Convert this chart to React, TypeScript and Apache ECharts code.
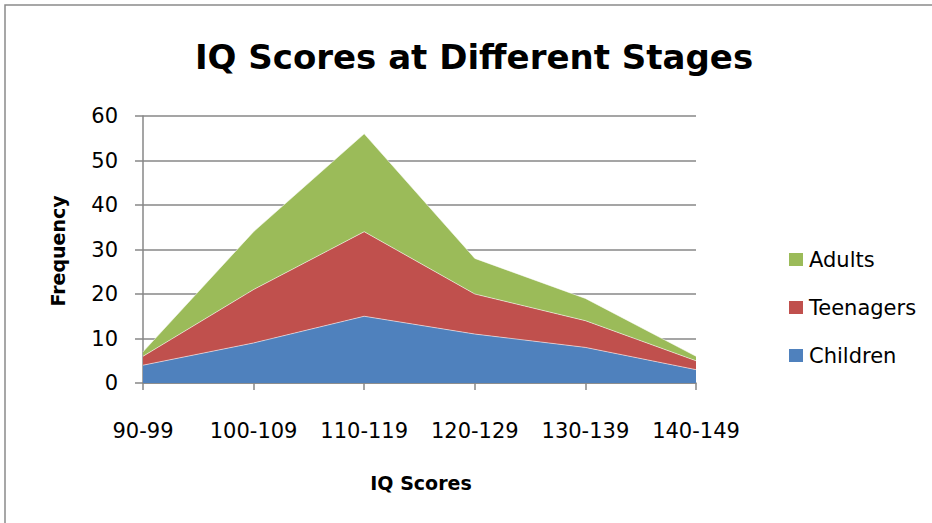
import React, { useEffect, useRef } from "react";
import * as echarts from "echarts";

const categories = ["90-99", "100-109", "110-119", "120-129", "130-139", "140-149"];
const children = [4, 9, 15, 11, 8, 3];
const teenagers = [2, 12, 19, 9, 6, 2];
const adults = [1, 13, 22, 8, 5, 1];
const yTicks = { min: 0, max: 60, interval: 10 };

const FONT = "'DejaVu Sans', sans-serif";
const GRAY = "#878787";

export default function App() {
  const ref = useRef<HTMLDivElement>(null);
  useEffect(() => {
    if (!ref.current) return;
    const chart = echarts.init(ref.current, undefined, { renderer: "svg" });
    const areaSeries = (name: string, data: number[], color: string) => ({
      name,
      type: "line",
      stack: "total",
      data,
      showSymbol: false,
      symbol: "none",
      lineStyle: { width: 1, color: "rgba(255,255,255,0.55)" },
      areaStyle: { color, opacity: 1 },
      itemStyle: { color },
    });
    chart.setOption({
      animation: false,
      backgroundColor: "#ffffff",
      title: {
        text: "IQ Scores at Different Stages",
        left: 469,
        textAlign: "center",
        top: 35,
        textStyle: { fontFamily: FONT, fontWeight: "bold", fontSize: 34, color: "#000" },
      },
      legend: {
        orient: "vertical",
        left: 784,
        top: 244,
        itemWidth: 14,
        itemHeight: 13,
        itemGap: 27,
        icon: "rect",
        data: ["Adults", "Teenagers", "Children"],
        textStyle: { fontFamily: FONT, fontSize: 21, color: "#000", padding: [0, 0, 0, 1] },
      },
      grid: { left: 143, right: 236, top: 116, bottom: 140, containLabel: false },
      xAxis: {
        type: "category",
        data: categories,
        boundaryGap: false,
        axisLine: { show: true, lineStyle: { color: GRAY, width: 1.5 } },
        axisTick: { show: true, interval: 0, length: 7, lineStyle: { color: GRAY, width: 1.5 } },
        axisLabel: {
          interval: 0,
          hideOverlap: false,
          margin: 37,
          fontFamily: FONT,
          fontSize: 21,
          color: "#000",
        },
        splitLine: { show: false },
      },
      yAxis: {
        type: "value",
        min: yTicks.min,
        max: yTicks.max,
        interval: yTicks.interval,
        axisLine: { show: true, lineStyle: { color: GRAY, width: 1.5 } },
        axisTick: { show: true, length: 8, lineStyle: { color: GRAY, width: 1.5 } },
        axisLabel: { margin: 25, fontFamily: FONT, fontSize: 21, color: "#000" },
        splitLine: { show: true, lineStyle: { color: GRAY, width: 1.5 } },
      },
      graphic: [
        {
          type: "rect",
          shape: { x: 5, y: 5, width: 1200, height: 1200 },
          style: { fill: "none", stroke: "#8a8a8a", lineWidth: 1.5 },
          silent: true,
        },
        {
          type: "text",
          x: 58,
          y: 251,
          rotation: Math.PI / 2,
          style: {
            text: "Frequency",
            fontFamily: FONT,
            fontWeight: "bold",
            fontSize: 19,
            fill: "#000",
            align: "center",
            verticalAlign: "middle",
          },
        },
        {
          type: "text",
          x: 421,
          y: 483,
          style: {
            text: "IQ Scores",
            fontFamily: FONT,
            fontWeight: "bold",
            fontSize: 19,
            fill: "#000",
            align: "center",
            verticalAlign: "middle",
          },
        },
      ],
      series: [
        areaSeries("Children", children, "#4F81BD"),
        areaSeries("Teenagers", teenagers, "#C0504D"),
        areaSeries("Adults", adults, "#9BBB59"),
      ],
    });
    return () => chart.dispose();
  }, []);
  return (
    <div
      ref={ref}
      style={{ position: "fixed", left: 0, top: 0, width: 932, height: 523 }}
    />
  );
}
